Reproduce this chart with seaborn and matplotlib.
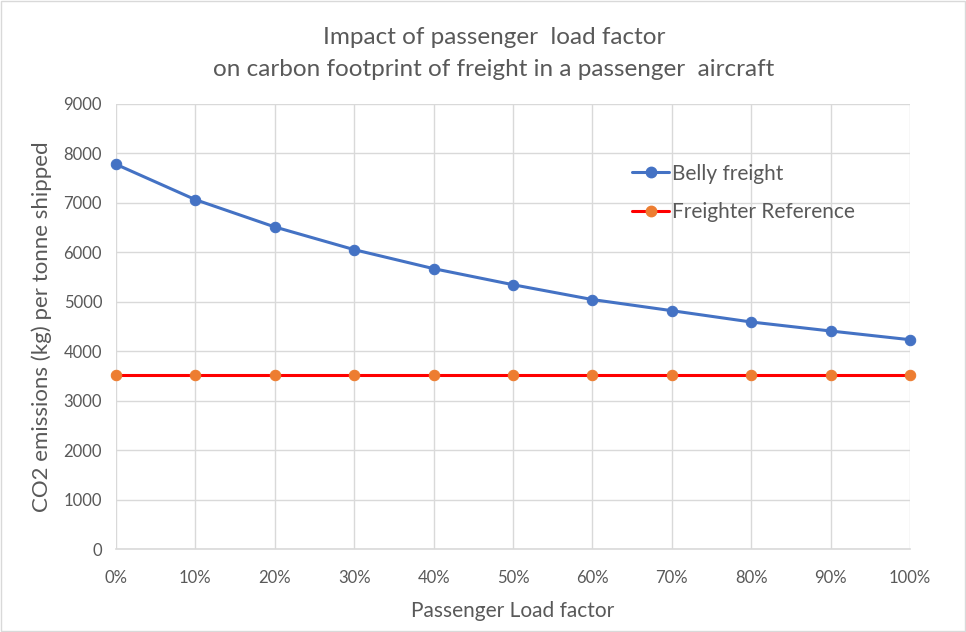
import matplotlib
matplotlib.use("Agg")
import matplotlib.pyplot as plt
import seaborn as sns
import pandas as pd
from matplotlib.lines import Line2D
from matplotlib.patches import Rectangle

# Passenger load factor (%) and CO2 per tonne of freight (kg)
load_factor = [0, 10, 20, 30, 40, 50, 60, 70, 80, 90, 100]
tick_labels = ["0%", "10%", "20%", "30%", "40%", "50%", "60%", "70%", "80%", "90%", "100%"]
belly_freight = [7780, 7065, 6513, 6054, 5670, 5345, 5045, 4820, 4591, 4409, 4233]
freighter_ref = [3520] * 11

df = pd.DataFrame({
    "lf": load_factor * 2,
    "co2": belly_freight + freighter_ref,
    "series": ["Belly freight"] * 11 + ["Freighter Reference"] * 11,
})

sns.set_theme(style="white")
plt.rcParams["font.family"] = ["Lato", "DejaVu Sans"]
text_col = "#595959"
grid_col = "#d9d9d9"
blue = "#4472C4"
orange = "#ED7D31"
red = "#FF0000"

fig = plt.figure(figsize=(9.66, 6.32), dpi=100)
ax = fig.add_axes([116 / 966, 1 - 549 / 632, (910 - 116) / 966, (549 - 104) / 632])

sns.lineplot(data=df[df.series == "Belly freight"], x="lf", y="co2", ax=ax,
             color=blue, linewidth=2.2, marker="o", markersize=7.5,
             markeredgecolor=blue, markerfacecolor=blue, zorder=4, clip_on=False)
sns.lineplot(data=df[df.series == "Freighter Reference"], x="lf", y="co2", ax=ax,
             color=red, linewidth=2.2, marker="o", markersize=7.5,
             markeredgecolor=orange, markerfacecolor=orange, zorder=3, clip_on=False)

ax.set_xlim(0, 100)
ax.set_ylim(0, 9000)
ax.set_xticks(load_factor)
ax.set_xticklabels(tick_labels)
ax.set_yticks(range(0, 9001, 1000))
ax.grid(True, color=grid_col, linewidth=1)
ax.set_axisbelow(True)
for s in ["top", "right", "left"]:
    ax.spines[s].set_visible(False)
ax.spines["bottom"].set_color(grid_col)
ax.spines["bottom"].set_linewidth(1.2)
ax.tick_params(axis="both", length=0, labelsize=12, colors=text_col, pad=10)
ax.tick_params(axis="x", pad=15)

ax.set_xlabel("Passenger Load factor", fontsize=15, color=text_col, labelpad=11)
ax.set_ylabel("CO2 emissions (kg) per tonne shipped", fontsize=16, color=text_col, labelpad=8)

title_x = 494 / 966
fig.text(title_x, 1 - 37 / 632, "Impact of passenger  load factor", ha="center", va="center",
         fontsize=17.5, color=text_col)
fig.text(title_x, 1 - 69 / 632, "on carbon footprint of freight in a passenger  aircraft",
         ha="center", va="center", fontsize=17.5, color=text_col)

handles = [
    Line2D([], [], color=blue, linewidth=2.2, marker="o", markersize=7.5,
           markerfacecolor=blue, markeredgecolor=blue),
    Line2D([], [], color=red, linewidth=2.2, marker="o", markersize=7.5,
           markerfacecolor=orange, markeredgecolor=orange),
]
leg = ax.legend(handles, ["Belly freight", "Freighter Reference"], loc="upper left",
                bbox_to_anchor=(0.64, 0.885), frameon=False, fontsize=15,
                handlelength=1.75, handletextpad=0.15, labelspacing=0.9, borderaxespad=0)
for t in leg.get_texts():
    t.set_color(text_col)

fig.patches.append(Rectangle((0.001, 0.001), 0.998, 0.998, transform=fig.transFigure,
                             fill=False, edgecolor=grid_col, linewidth=1))

fig.savefig("out.png", dpi=100, facecolor="white")
